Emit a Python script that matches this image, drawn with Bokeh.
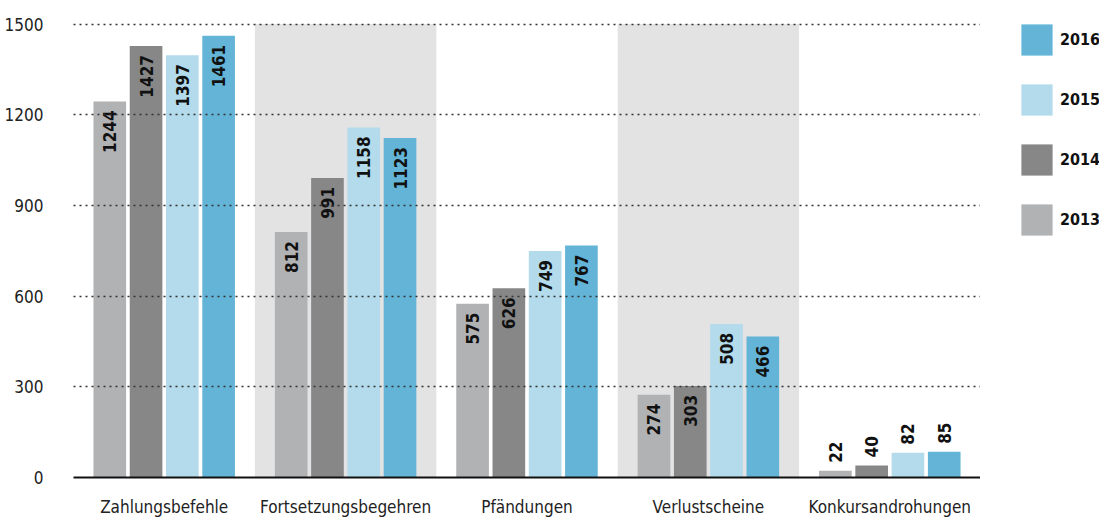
from bokeh.plotting import figure
from bokeh.layouts import row
from bokeh.models import (ColumnDataSource, FactorRange, Range1d, Legend, LegendItem,
                          FixedTicker)
from bokeh.transform import dodge
from bokeh.embed import file_html
from bokeh.resources import INLINE
from bokeh.core.properties import value

categories = ["Zahlungsbefehle", "Fortsetzungsbegehren", "Pfändungen",
              "Verlustscheine", "Konkursandrohungen"]
years = ["2013", "2014", "2015", "2016"]
values_2013 = [1244, 812, 575, 274, 22]
values_2014 = [1427, 991, 626, 303, 40]
values_2015 = [1397, 1158, 749, 508, 82]
values_2016 = [1461, 1123, 767, 466, 85]
shaded_categories = ["Fortsetzungsbegehren", "Verlustscheine"]
y_ticks = [0, 300, 600, 900, 1200, 1500]

series = [values_2013, values_2014, values_2015, values_2016]
colors = ["#b1b2b4", "#878787", "#b3dbeb", "#63b4d7"]
offsets = [-0.3, -0.1, 0.1, 0.3]
FONT = "DejaVu Sans Condensed"

# a little headroom above 1500 keeps the top gridline fully inside the frame
p = figure(width=980, height=519, x_range=FactorRange(factors=categories, range_padding=0),
           y_range=Range1d(0, 1505), output_backend="svg", toolbar_location=None,
           min_border_left=73, min_border_right=0, min_border_top=22,
           min_border_bottom=42)
p.outline_line_color = None
p.background_fill_color = "white"
p.border_fill_color = "white"

# shaded background bands behind alternating categories
band_src = ColumnDataSource(dict(x=shaded_categories, top=[1500] * len(shaded_categories)))
p.vbar(x="x", top="top", bottom=0, width=1.0, source=band_src,
       fill_color="#e3e3e3", line_color=None)

for year, vals, col, off in zip(years, series, colors, offsets):
    src = ColumnDataSource(dict(
        x=categories, top=vals,
        lab_in=[str(v) if v >= 150 else "" for v in vals],
        lab_out=[str(v) if v < 150 else "" for v in vals],
    ))
    p.vbar(x=dodge("x", off, range=p.x_range), top="top", bottom=0, width=0.18,
           source=src, fill_color=col, line_color=None)
    # value labels, rotated; inside the bar near its top, or above short bars
    p.text(x=dodge("x", off, range=p.x_range), y="top", text="lab_in", source=src,
           angle=1.5708, text_align="right", text_baseline="middle",
           y_offset=9, text_font=value(FONT), text_font_size="17px",
           text_font_style="bold", text_color="#111111")
    p.text(x=dodge("x", off, range=p.x_range), y="top", text="lab_out", source=src,
           angle=1.5708, text_align="left", text_baseline="middle",
           y_offset=-8, text_font=value(FONT), text_font_size="17px",
           text_font_style="bold", text_color="#111111")

p.xgrid.visible = False
p.ygrid.ticker = FixedTicker(ticks=y_ticks[1:])
p.ygrid.grid_line_color = "#333333"
p.ygrid.grid_line_dash = "2 4"
p.ygrid.grid_line_width = 1.5
p.ygrid.level = "overlay"

p.yaxis.ticker = FixedTicker(ticks=y_ticks)
p.yaxis.axis_line_color = None
p.yaxis.major_tick_line_color = None
p.yaxis.minor_tick_line_color = None
p.yaxis.major_label_standoff = 24
p.yaxis.major_label_text_font = FONT
p.yaxis.major_label_text_font_size = "17px"
p.yaxis.major_label_text_color = "#222222"

p.xaxis.axis_line_color = "#111111"
p.xaxis.axis_line_width = 2
p.xaxis.major_tick_line_color = None
p.xaxis.minor_tick_line_color = None
p.xaxis.major_label_standoff = 13
p.xaxis.major_label_text_font = FONT
p.xaxis.major_label_text_font_size = "17px"
p.xaxis.major_label_text_color = "#222222"

# legend panel to the right of the chart; its frame lines up with the chart's
lf = figure(width=119, height=519, x_range=Range1d(0, 1), y_range=Range1d(0, 1),
            output_backend="svg", toolbar_location=None,
            min_border_left=0, min_border_right=0, min_border_top=22, min_border_bottom=42)
lf.axis.visible = False
lf.grid.visible = False
lf.outline_line_color = None
items = []
for year, col in reversed(list(zip(years, colors))):
    # zero-height placeholder bar that only supplies the legend swatch
    r = lf.vbar(x=[0], top=[0], bottom=[0], width=0.1, fill_color=col, line_color=None)
    items.append(LegendItem(label=year, renderers=[r]))
legend = Legend(items=items, location=(37, 238), orientation="vertical", padding=0, margin=0,
                spacing=21, glyph_width=39, glyph_height=39, label_standoff=4,
                label_text_font=FONT, label_text_font_size="16px",
                label_text_font_style="bold", label_text_color="#111111",
                border_line_color=None, background_fill_alpha=0)
lf.add_layout(legend, "center")

open("out.html", "w").write(file_html(row(p, lf), INLINE))
